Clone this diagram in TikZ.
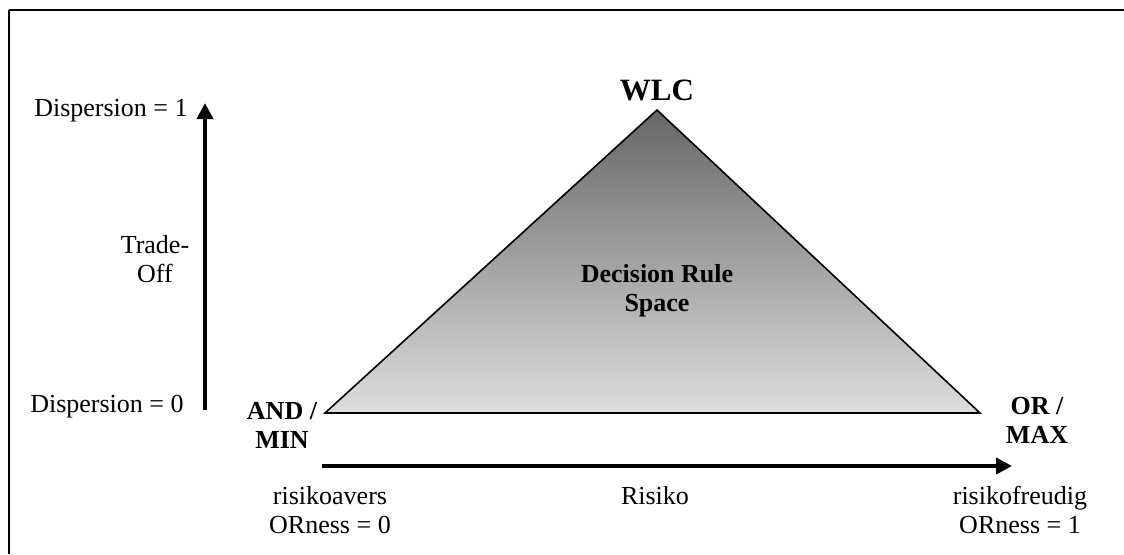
\documentclass[tikz,border=0pt]{standalone}
\usepackage{fontspec}
\setmainfont{Liberation Serif}
\usetikzlibrary{arrows.meta}
\definecolor{shadetop}{RGB}{102,102,102}
\definecolor{shadebot}{RGB}{222,222,222}
\tikzset{
  lbl/.style={font=\fontsize{13}{14.5}\selectfont, align=center, inner sep=0pt},
  lblr/.style={lbl, anchor=east},
  bold/.style={lbl, font=\fontsize{13}{14.5}\selectfont\bfseries},
  axis/.style={line width=2pt, -{Triangle[length=8pt,width=8pt]}},
  frame/.style={line width=1pt}
}
\begin{document}
\begin{tikzpicture}[x=0.5pt,y=-0.5pt]
\useasboundingbox (0,0) rectangle (1124,554);
% outer frame (top and left edges)
\draw[frame] (9,10) -- (1124,10);
\draw[frame] (9,10) -- (9,554);
% triangle corners
\coordinate (apex) at (657,110);
\coordinate (lft) at (325,413);
\coordinate (rgt) at (980,413);
\shade[top color=shadetop, bottom color=shadebot] (apex) -- (lft) -- (rgt) -- cycle;
\draw[line width=0.8pt, line join=miter] (apex) -- (lft) -- (rgt) -- cycle;
% vertical axis
\coordinate (v0) at (205,410);
\coordinate (v1) at (205,103);
\draw[axis] (v0) -- (v1);
% horizontal axis
\coordinate (h0) at (322,466);
\coordinate (h1) at (1012,466);
\draw[axis] (h0) -- (h1);
% labels
\node[lblr] (d1) at (188,111) {Dispersion = 1};
\node[lblr] (d0) at (184,407) {Dispersion = 0};
\node[lbl] (to) at (155,259) {Trade-\\Off};
\node[lbl, font=\fontsize{15.5}{17}\selectfont\bfseries] (wlc) at (657,90) {WLC};
\node[bold] (drs) at (657,291) {Decision Rule\\Space};
\node[bold] (andmin) at (282,425) {AND /\\MIN};
\node[bold] (ormax) at (1037,420) {OR /\\MAX};
\node[lbl] (ra) at (330,510) {risikoavers\\ORness = 0};
\node[lbl] (ri) at (655,496) {Risiko};
\node[lbl] (rf) at (1020,510) {risikofreudig\\ORness = 1};
\end{tikzpicture}
\end{document}
